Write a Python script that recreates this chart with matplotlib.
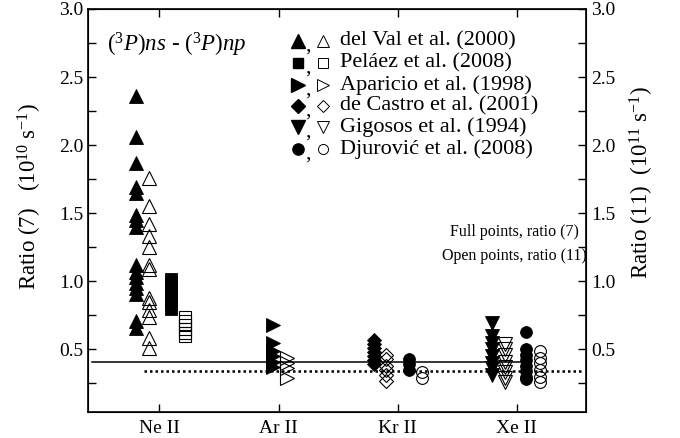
import matplotlib
matplotlib.use("Agg")
import matplotlib.pyplot as plt
from matplotlib.ticker import MultipleLocator

plt.rcParams['font.family'] = ['Liberation Serif', 'DejaVu Serif']
plt.rcParams['mathtext.fontset'] = 'custom'
plt.rcParams['mathtext.rm'] = 'Liberation Serif'
plt.rcParams['mathtext.it'] = 'Liberation Serif:italic'

# Ions on the x axis
ions = ["Ne II", "Ar II", "Kr II", "Xe II"]

# Ne II: del Val (triangles) and Pelaez (squares), full = ratio (7), open = ratio (11)
ne_delval_full = [2.36, 2.06, 1.87, 1.69, 1.65, 1.49, 1.45, 1.40, 1.12, 1.07,
                  1.03, 0.99, 0.95, 0.91, 0.71, 0.66]
ne_delval_open = [1.76, 1.55, 1.42, 1.33, 1.25, 1.12, 1.09, 0.88, 0.85, 0.79,
                  0.74, 0.58, 0.51]
ne_pelaez_full = [1.02, 0.99, 0.96, 0.93, 0.90, 0.87, 0.84, 0.80]
ne_pelaez_open = [0.74, 0.71, 0.68, 0.65, 0.62, 0.60]

# Ar II: Aparicio
ar_aparicio_full = [0.68, 0.55, 0.49, 0.45, 0.41, 0.37]
ar_aparicio_open = [0.44, 0.40, 0.36, 0.29]

# Kr II: de Castro and Djurovic
kr_decastro_full = [0.57, 0.54, 0.51, 0.48, 0.45, 0.42, 0.39]
kr_decastro_open = [0.46, 0.43, 0.38, 0.35, 0.31, 0.27]
kr_djurovic_full = [0.43, 0.39, 0.35]
kr_djurovic_open = [0.33, 0.29]

# Xe II: Gigosos and Djurovic
xe_gigosos_full = [0.69, 0.60, 0.55, 0.50, 0.45, 0.40, 0.36, 0.31]
xe_gigosos_open = [0.54, 0.50, 0.46, 0.41, 0.37, 0.33, 0.29, 0.26]
xe_djurovic_full = [0.63, 0.50, 0.46, 0.42, 0.38, 0.34, 0.30, 0.28]
xe_djurovic_open = [0.49, 0.44, 0.40, 0.35, 0.30, 0.26]

# reference levels
solid_level = 0.41
dotted_level = 0.34

legend_entries = [
    ("^", "del Val et al. (2000)"),
    ("s", "Peláez et al. (2008)"),
    (">", "Aparicio et al. (1998)"),
    ("D", "de Castro et al. (2001)"),
    ("v", "Gigosos et al. (1994)"),
    ("o", "Djurović et al. (2008)"),
]

msize = {"^": 10, "v": 10, ">": 10, "s": 8, "D": 7.2, "o": 8.5}

fig = plt.figure(figsize=(6.8, 4.38), dpi=100)
ax = fig.add_axes([0.1294, 0.0594, 0.7324, 0.9201])


def pts(ion, offset, values, marker, filled):
    x = [ions.index(ion) + 1 + offset] * len(values)
    if filled:
        ax.plot(x, values, ls="none", marker=marker, ms=msize[marker],
                mfc="black", mec="black", mew=0.6, zorder=3)
    else:
        ax.plot(x, values, ls="none", marker=marker, ms=msize[marker],
                mfc="none", mec="black", mew=0.8, zorder=3)


ax.plot([0.43, 4.05], [solid_level, solid_level], color="black", lw=1.1, zorder=2)
ax.plot([0.87, 4.55], [dotted_level, dotted_level], color="black", lw=1.8,
        ls=(0, (1.0, 1.2)), zorder=2)

pts("Ne II", -0.20, ne_delval_full, "^", True)
pts("Ne II", -0.09, ne_delval_open, "^", False)
pts("Ne II", 0.10, ne_pelaez_full, "s", True)
pts("Ne II", 0.21, ne_pelaez_open, "s", False)

pts("Ar II", -0.05, ar_aparicio_full, ">", True)
pts("Ar II", 0.07, ar_aparicio_open, ">", False)

pts("Kr II", -0.20, kr_decastro_full, "D", True)
pts("Kr II", -0.10, kr_decastro_open, "D", False)
pts("Kr II", 0.095, kr_djurovic_full, "o", True)
pts("Kr II", 0.205, kr_djurovic_open, "o", False)

pts("Xe II", -0.21, xe_gigosos_full, "v", True)
pts("Xe II", -0.10, xe_gigosos_open, "v", False)
pts("Xe II", 0.08, xe_djurovic_full, "o", True)
pts("Xe II", 0.19, xe_djurovic_open, "o", False)

ax.set_xlim(0.4, 4.58)
ax.set_ylim(0.04, 3.0)
ax.set_xticks(range(1, len(ions) + 1))
ax.set_xticklabels(ions, fontsize=14)
ax.yaxis.set_major_locator(MultipleLocator(0.5))
ax.yaxis.set_minor_locator(MultipleLocator(0.25))
ax.set_yticks([0.5, 1.0, 1.5, 2.0, 2.5, 3.0])
ax.tick_params(axis="both", which="both", direction="in", length=6, width=1,
               labelsize=14)
ax.tick_params(axis="x", top=True, pad=6)
ax.tick_params(axis="y", which="both", left=True, right=True)
for sp in ax.spines.values():
    sp.set_linewidth(1.2)

ax.set_ylabel(r"Ratio (7)   $(10^{10}\ \mathrm{s}^{-1})$", fontsize=16.5)
ax.yaxis.set_label_coords(-0.088, 0.535)

ax2 = ax.twinx()
ax2.set_ylim(ax.get_ylim())
ax2.yaxis.set_major_locator(MultipleLocator(0.5))
ax2.yaxis.set_minor_locator(MultipleLocator(0.25))
ax2.set_yticks([0.5, 1.0, 1.5, 2.0, 2.5, 3.0])
ax2.tick_params(axis="y", which="both", direction="in", length=6, width=1,
                labelsize=14)
ax2.set_ylabel(r"Ratio (11)  $(10^{11}\ \mathrm{s}^{-1})$", fontsize=16.5)
ax2.yaxis.set_label_coords(1.084, 0.57)

ax.text(0.038, 0.91, r"$(^{3}P)ns$ - $(^{3}P)np$", transform=ax.transAxes,
        fontsize=16.5, va="center", ha="left")

# legend drawn by hand: full marker, comma, open marker, label
rows_y = [0.921, 0.866, 0.812, 0.760, 0.708, 0.653]
for (mk, label), y in zip(legend_entries, rows_y):
    ax.plot([0.421], [y], marker=mk, ms=msize[mk] * 0.95, mfc="black", mec="black",
            transform=ax.transAxes, clip_on=False, ls="none")
    ax.text(0.437, y - 0.013, ",", transform=ax.transAxes, fontsize=16,
            ha="left", va="center")
    ax.plot([0.472], [y], marker=mk, ms=msize[mk] * 0.85, mfc="none", mec="black",
            mew=0.7, transform=ax.transAxes, clip_on=False, ls="none")
    ax.text(0.506, y, label, transform=ax.transAxes, fontsize=16,
            ha="left", va="center")

ax.text(0.857, 0.447, "Full points, ratio (7)", transform=ax.transAxes,
        fontsize=11.5, ha="center", va="center")
ax.text(0.857, 0.387, "Open points, ratio (11)", transform=ax.transAxes,
        fontsize=11.5, ha="center", va="center")

plt.savefig("out.png", dpi=100)
